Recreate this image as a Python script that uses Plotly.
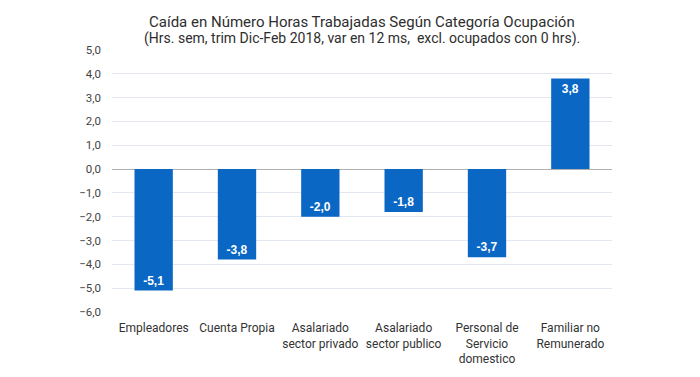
import plotly.graph_objects as go

categories = ["Empleadores", "Cuenta Propia", "Asalariado<br>sector privado",
              "Asalariado<br>sector publico", "Personal de<br>Servicio<br>domestico",
              "Familiar no<br>Remunerado"]
values = [-5.1, -3.8, -2.0, -1.8, -3.7, 3.8]
labels = [f"{v:.1f}".replace(".", ",") for v in values]
tick_vals = [5, 4, 3, 2, 1, 0, -1, -2, -3, -4, -5, -6]
title_text = "Caída en Número Horas Trabajadas Según Categoría Ocupación"
subtitle_text = "(Hrs. sem, trim Dic-Feb 2018, var en 12 ms,  excl. ocupados con 0 hrs)."

FONT = "Roboto"

fig = go.Figure(go.Bar(
    x=categories, y=values, text=labels,
    textposition="inside", insidetextanchor="end",
    textfont=dict(family="Arial", size=12, color="white", weight="bold"),
    marker=dict(color="#0a67c4", line=dict(width=0)),
    cliponaxis=False,
))

fig.update_layout(
    width=700, height=377,
    margin=dict(l=104, r=96, t=42, b=73, autoexpand=False),
    paper_bgcolor="white", plot_bgcolor="white",
    separators=",.",
    bargap=0.54,
    showlegend=False,
    font=dict(family=FONT, color="#333"),
    annotations=[
        dict(text=title_text, xref="paper", yref="paper", x=0.5, y=1.107,
             xanchor="center", yanchor="middle", showarrow=False,
             font=dict(family=FONT, size=15, color="#2e2e2e")),
        dict(text=subtitle_text, xref="paper", yref="paper", x=0.5, y=1.045,
             xanchor="center", yanchor="middle", showarrow=False,
             font=dict(family=FONT, size=14, color="#2e2e2e")),
    ],
)
fig.update_yaxes(
    range=[-6, 5], tickvals=tick_vals, tickformat=".1f",
    showgrid=True, gridcolor="#e3e8f0", gridwidth=1,
    zeroline=True, zerolinecolor="#b0b0b0", zerolinewidth=1,
    tickfont=dict(family=FONT, size=11.5, color="#444"),
    ticklabelstandoff=10, showline=False, automargin=False,
)
fig.update_xaxes(
    tickfont=dict(family=FONT, size=12, color="#333"),
    showline=False, ticks="", ticklabelstandoff=7, automargin=False,
)

fig.write_html("out.html")
